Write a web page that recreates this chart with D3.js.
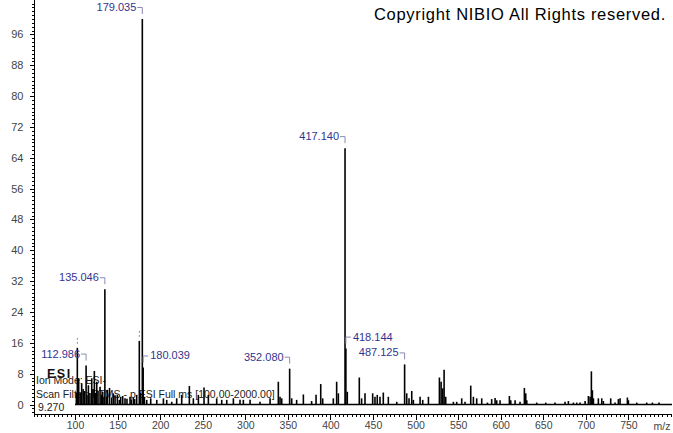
<!DOCTYPE html>
<html>
<head>
<meta charset="utf-8">
<script src="https://cdn.jsdelivr.net/npm/d3@7"></script>
<style>
  body { margin: 0; background: #fff; }
  svg { display: block; font-family: "Liberation Sans", Arial, sans-serif; }
</style>
</head>
<body>
<div id="chart"></div>
<script>
// spectrum peaks (m/z, relative abundance %)
const peakMz = [
  101.5, 102.7, 103.5, 104.3, 106.0, 107.8, 109.5, 111.0, 112.986, 114.0, 115.7, 117.5, 119.6,
  121.0, 122.7, 124.0, 125.5, 127.0, 129.4, 131.0, 132.5, 134.0, 135.046, 137.0, 138.0, 140.5,
  143.0, 145.0, 147.0, 149.7, 152.0, 153.6, 156.0, 158.7, 161.0, 164.6, 166.0, 168.5, 170.0,
  172.4, 175.5, 177.0, 179.035, 180.039, 181.5, 184.2, 188.9, 196.0, 203.8, 207.7, 213.6, 219.4,
  225.3, 234.3, 239.0, 244.9, 251.5, 256.6, 266.4, 272.3, 278.2, 286.0, 293.8,
  297.7, 305.6, 317.3, 329.1, 338.8, 340.8, 342.8, 352.080, 354.5, 360.3, 368.2, 377.9, 383.1,
  388.6, 390.9, 403.4, 407.3, 409.3, 417.140, 418.144, 419.8, 433.9, 436.6, 440.6, 449.6, 452.3,
  455.0, 458.2, 462.1, 468.0, 477.9, 487.125, 489.6, 492.3, 495.5, 497.4, 505.3, 508.4, 515.1,
  528.0, 530.0, 531.9, 533.5, 535.4, 544.4,
  548.3, 554.2, 558.1, 564.8, 567.9, 571.8, 577.7, 584.4, 589.4, 593.4, 595.3, 599.2, 610.2,
  611.8, 616.9, 622.7, 627.8, 629.4, 630.6, 642.3, 652.9, 663.8, 675.6, 679.5, 685.4, 689.3,
  693.2, 699.1, 703.0, 705.0, 706.5, 707.7, 708.9, 714.7, 718.7, 720.6, 729.2, 734.3, 738.2,
  740.2, 748.8, 750.0, 759.8, 771.5, 778.2, 786.0
];
const peakIntensity = [
  3.0, 14.7, 4.0, 6.8, 3.0, 5.5, 4.0, 3.5, 10.1, 2.5, 5.0, 3.0, 6.8,
  4.0, 8.7, 3.0, 5.9, 3.5, 4.6, 2.5, 3.3, 2.0, 29.9, 2.0, 3.8, 4.3,
  1.8, 2.9, 2.4, 2.5, 1.2, 2.0, 2.2, 1.6, 1.5, 2.0, 1.2, 1.8, 1.4,
  2.5, 16.5, 3.0, 100, 9.6, 2.0, 1.2, 1.6, 1.2, 1.6, 1.2, 0.7, 1.6,
  2.5, 4.8, 1.6, 2.5, 4.4, 2.5, 1.6, 1.2, 1.2, 1.6, 1.2,
  1.2, 1.2, 0.7, 1.6, 5.9, 2.0, 1.6, 9.3, 1.6, 1.2, 2.6, 0.9, 2.5,
  5.3, 1.6, 1.6, 5.9, 2.9, 66.5, 14.5, 3.3, 7.0, 1.6, 2.9, 2.9, 2.0,
  2.5, 2.0, 3.1, 2.0, 0.7, 10.4, 2.9, 1.6, 3.5, 1.2, 2.0, 1.2, 2.0,
  7.0, 5.9, 4.2, 9.0, 2.0, 0.7,
  0.7, 1.6, 0.7, 4.9, 2.0, 1.6, 1.6, 0.5, 1.4, 1.7, 1.1, 1.1, 2.2,
  1.1, 1.1, 0.7, 4.3, 2.9, 1.1, 0.5, 0.5, 0.5, 0.7, 0.9, 0.5, 0.5,
  0.5, 0.9, 2.2, 2.0, 8.6, 3.7, 1.6, 1.6, 1.6, 0.9, 1.6, 0.5, 1.4,
  1.6, 1.8, 1.1, 0.5, 0.5, 0.5, 0.5
];

// labelled peaks and the side the label sits on
const labelMz = [179.035, 417.140, 135.046, 112.986, 180.039, 352.080, 418.144, 487.125];
const labelSide = ["left", "left", "left", "left", "right", "left", "right", "left"];
// peaks marked with a dashed tick but no label
const markerMz = [102.7, 175.5];

const yMajorTicks = [0, 8, 16, 24, 32, 40, 48, 56, 64, 72, 80, 88, 96];
const xMajorTicks = [100, 150, 200, 250, 300, 350, 400, 450, 500, 550, 600, 650, 700, 750];

const infoLines = ["Ion Mode: ESI-", "Scan Filter: FTMS - p ESI Full ms [100.00-2000.00]", "9.270"];

const width = 673, height = 433;

const svg = d3.select("#chart").append("svg")
    .attr("width", width)
    .attr("height", height);

const x = d3.scaleLinear().domain([51.8, 801.2]).range([34, 672]);
const y = d3.scaleLinear().domain([0, 100]).range([404.5, 19]);

const labelColor = "#33338f";
const leaderColor = "#8a8ab2";
const axisY = 414.5;

// y axis
svg.append("line")
    .attr("x1", 34.5).attr("x2", 34.5)
    .attr("y1", 0).attr("y2", 417)
    .attr("stroke", "#000");

const yMinor = svg.append("g")
    .attr("transform", "translate(34.5,0)")
    .call(d3.axisLeft(y).tickValues(d3.range(-2, 105)).tickSize(2.5).tickFormat(""));
const yMajor = svg.append("g")
    .attr("transform", "translate(34.5,0)")
    .call(d3.axisLeft(y).tickValues(yMajorTicks).tickSize(5).tickPadding(6).tickFormat(d3.format("d")));

// x axis
svg.append("line")
    .attr("x1", 34).attr("x2", 672)
    .attr("y1", axisY).attr("y2", axisY)
    .attr("stroke", "#000");

const xMinor = svg.append("g")
    .attr("transform", "translate(0," + axisY + ")")
    .call(d3.axisBottom(x).tickValues(d3.range(55, 805, 5)).tickSize(2.5).tickFormat(""));
const xMajor = svg.append("g")
    .attr("transform", "translate(0," + axisY + ")")
    .call(d3.axisBottom(x).tickValues(xMajorTicks).tickSize(5).tickPadding(2).tickFormat(d3.format("d")));

[yMinor, yMajor, xMinor, xMajor].forEach(g => {
    g.select(".domain").remove();
    g.selectAll(".tick line").attr("stroke", "#000").attr("shape-rendering", "crispEdges");
});
yMajor.selectAll("text").attr("font-size", 11).attr("fill", "#444").attr("font-family", "Liberation Sans, Arial, sans-serif");
xMajor.selectAll("text").attr("font-size", 10.5).attr("fill", "#444").attr("font-family", "Liberation Sans, Arial, sans-serif");

svg.append("text")
    .attr("x", 662).attr("y", axisY + 15)
    .attr("text-anchor", "middle")
    .attr("font-size", 10.5)
    .attr("fill", "#444")
    .text("m/z");

// info text (drawn under the peaks)
svg.append("text")
    .attr("x", 47).attr("y", 378)
    .attr("font-size", 12.5)
    .attr("font-weight", "bold")
    .attr("letter-spacing", 1.5)
    .attr("fill", "#111")
    .text("ESI");

svg.selectAll(".info")
    .data(infoLines)
    .enter()
    .append("text")
    .attr("class", "info")
    .attr("x", (d, i) => i === 2 ? 38 : 36)
    .attr("y", (d, i) => [384, 398, 411][i])
    .attr("font-size", 10.5)
    .attr("fill", "#222")
    .text(d => d);

// baseline
svg.append("line")
    .attr("x1", x(100)).attr("x2", 672)
    .attr("y1", y(0)).attr("y2", y(0))
    .attr("stroke", "#000")
    .attr("stroke-width", 1.5);

// peaks
svg.append("g")
    .selectAll("line")
    .data(peakMz)
    .enter()
    .append("line")
    .attr("x1", d => x(d)).attr("x2", d => x(d))
    .attr("y1", y(0))
    .attr("y2", (d, i) => y(peakIntensity[i]))
    .attr("stroke", "#000")
    .attr("stroke-width", 1.6);

// dashed markers above unlabelled peaks
svg.append("g")
    .selectAll("line")
    .data(markerMz)
    .enter()
    .append("line")
    .attr("x1", d => x(d)).attr("x2", d => x(d))
    .attr("y1", d => y(peakIntensity[peakMz.indexOf(d)]) - 10)
    .attr("y2", d => y(peakIntensity[peakMz.indexOf(d)]) - 3)
    .attr("stroke", leaderColor)
    .attr("stroke-dasharray", "2,2");

// labels with leader brackets
const labels = svg.append("g")
    .selectAll("g")
    .data(labelMz)
    .enter()
    .append("g");

labels.append("path")
    .attr("fill", "none")
    .attr("stroke", leaderColor)
    .attr("d", (d, i) => {
        const px = x(d);
        const top = y(peakIntensity[peakMz.indexOf(d)]);
        const hy = top - 11.5;
        const hx = labelSide[i] === "left" ? px - 5 : px + 5;
        return "M" + hx + "," + hy + "H" + px + "V" + (top - 5);
    });

labels.append("text")
    .attr("x", (d, i) => labelSide[i] === "left" ? x(d) - 6 : x(d) + 7)
    .attr("y", d => y(peakIntensity[peakMz.indexOf(d)]) - 8)
    .attr("text-anchor", (d, i) => labelSide[i] === "left" ? "end" : "start")
    .attr("font-size", 11)
    .attr("fill", labelColor)
    .text(d => d.toFixed(3));

// copyright
svg.append("text")
    .attr("x", 666).attr("y", 20)
    .attr("text-anchor", "end")
    .attr("font-size", 16.5)
    .attr("letter-spacing", 0.7)
    .attr("fill", "#000")
    .text("Copyright NIBIO All Rights reserved.");
</script>
</body>
</html>
